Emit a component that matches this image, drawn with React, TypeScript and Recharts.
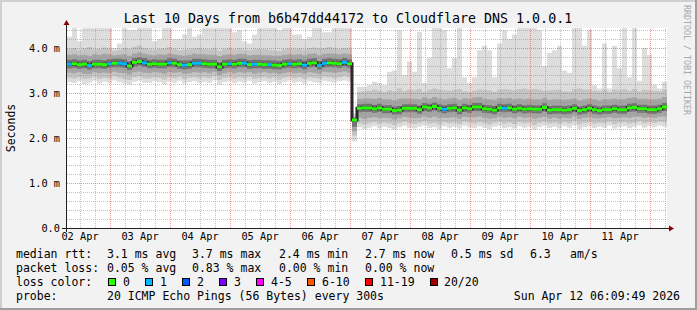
import React from 'react';
import {
  ComposedChart,
  Area,
  Line,
  Scatter,
  XAxis,
  YAxis,
  CartesianGrid,
  ReferenceLine,
} from 'recharts';

const MONO = "'DejaVu Sans Mono', 'Liberation Mono', monospace";

// time axis in hours since 02 Apr 00:00, one column every 2 hours
const startHour = 6.8;
const stepHours = 2;
const spanHours = 240;

const dayLabels = ['02 Apr', '03 Apr', '04 Apr', '05 Apr', '06 Apr', '07 Apr', '08 Apr', '09 Apr', '10 Apr', '11 Apr'];
const yTicks = [0, 1, 2, 3, 4];

// round trip times in ms, per column
const rttMedian = [
  3.64, 3.65, 3.63, 3.64, 3.61, 3.64, 3.64, 3.63, 3.65, 3.66,
  3.66, 3.65, 3.60, 3.68, 3.70, 3.67, 3.64, 3.65, 3.64, 3.64,
  3.67, 3.66, 3.63, 3.62, 3.63, 3.66, 3.66, 3.65, 3.64, 3.64,
  3.58, 3.64, 3.65, 3.64, 3.66, 3.66, 3.63, 3.64, 3.64, 3.63,
  3.63, 3.62, 3.61, 3.64, 3.65, 3.64, 3.65, 3.62, 3.66, 3.67,
  3.61, 3.66, 3.67, 3.66, 3.65, 3.68, 3.65, 2.40, 2.66, 2.67,
  2.67, 2.65, 2.67, 2.64, 2.64, 2.61, 2.62, 2.66, 2.66, 2.66,
  2.63, 2.69, 2.67, 2.70, 2.66, 2.64, 2.66, 2.67, 2.62, 2.67,
  2.65, 2.69, 2.69, 2.65, 2.64, 2.62, 2.67, 2.66, 2.67, 2.64,
  2.66, 2.64, 2.65, 2.64, 2.64, 2.68, 2.62, 2.63, 2.63, 2.62,
  2.63, 2.66, 2.61, 2.63, 2.66, 2.63, 2.61, 2.63, 2.63, 2.65,
  2.63, 2.63, 2.67, 2.68, 2.65, 2.65, 2.63, 2.63, 2.65, 2.69,
];

const rttMax = [
  4.25, 4.5, 4.15, 4.5, 4.5, 4.5, 4.5, 4.5, 4.5, 4.0,
  4.1, 4.5, 4.4, 4.4, 4.5, 4.5, 4.5, 4.15, 4.2, 4.5,
  4.5, 4.2, 4.2, 4.3, 4.5, 4.25, 4.3, 4.5, 4.5, 4.5,
  4.5, 4.5, 4.5, 4.35, 4.4, 4.15, 4.1, 4.3, 4.5, 4.5,
  4.5, 4.5, 4.4, 4.5, 4.5, 4.3, 4.3, 4.2, 4.25, 4.5,
  4.5, 4.35, 4.35, 4.5, 4.5, 4.5, 4.5, 2.55, 3.14, 3.14,
  3.18, 3.25, 3.22, 3.18, 3.47, 3.5, 4.4, 3.4, 3.7, 3.47,
  4.36, 3.22, 3.78, 4.5, 4.5, 4.4, 3.55, 3.78, 4.5, 3.35,
  3.22, 3.35, 3.95, 4.05, 3.95, 3.35, 4.1, 4.4, 4.2, 4.3,
  4.5, 4.5, 4.5, 4.5, 4.4, 3.6, 3.89, 3.95, 4.05, 3.5,
  3.45, 4.5, 4.5, 4.05, 4.4, 3.18, 3.1, 4.1, 3.1, 4.05,
  3.55, 4.5, 3.35, 4.5, 3.27, 4.0, 3.85, 3.18, 3.1, 3.25,
];

const rttP90 = [
  3.98, 4.00, 3.95, 3.99, 4.02, 3.97, 3.98, 4.01, 3.99, 3.94,
  3.96, 4.00, 3.98, 4.03, 4.05, 4.00, 3.97, 3.96, 3.98, 3.99,
  4.02, 3.98, 3.95, 3.96, 3.97, 3.99, 4.00, 3.98, 3.97, 3.99,
  3.94, 3.98, 4.00, 3.97, 3.99, 3.96, 3.95, 3.97, 3.98, 3.97,
  3.96, 3.95, 3.94, 3.97, 3.99, 3.98, 3.99, 3.96, 4.00, 4.01,
  3.99, 4.00, 4.02, 3.99, 3.98, 4.00, 3.99, 2.50, 3.02, 3.04,
  3.05, 3.07, 3.05, 3.02, 3.06, 3.04, 3.10, 3.05, 3.08, 3.06,
  3.09, 3.03, 3.07, 3.10, 3.08, 3.06, 3.05, 3.07, 3.09, 3.04,
  3.02, 3.05, 3.08, 3.07, 3.06, 3.03, 3.08, 3.09, 3.07, 3.06,
  3.09, 3.10, 3.08, 3.09, 3.08, 3.05, 3.06, 3.07, 3.08, 3.04,
  3.03, 3.09, 3.10, 3.07, 3.08, 3.05, 3.04, 3.08, 3.03, 3.08,
  3.06, 3.09, 3.05, 3.09, 3.04, 3.07, 3.06, 3.05, 3.04, 3.08,
];

const rttP75 = [
  3.85, 3.86, 3.84, 3.85, 3.83, 3.86, 3.85, 3.87, 3.86, 3.84,
  3.85, 3.86, 3.83, 3.88, 3.90, 3.87, 3.85, 3.84, 3.86, 3.85,
  3.88, 3.86, 3.84, 3.83, 3.85, 3.87, 3.86, 3.86, 3.85, 3.85,
  3.82, 3.85, 3.86, 3.85, 3.87, 3.86, 3.84, 3.85, 3.85, 3.84,
  3.84, 3.83, 3.83, 3.85, 3.86, 3.85, 3.86, 3.84, 3.87, 3.88,
  3.84, 3.87, 3.88, 3.87, 3.86, 3.88, 3.86, 2.46, 2.87, 2.88,
  2.88, 2.87, 2.89, 2.86, 2.86, 2.84, 2.87, 2.88, 2.88, 2.87,
  2.86, 2.90, 2.88, 2.91, 2.88, 2.86, 2.88, 2.89, 2.85, 2.88,
  2.87, 2.90, 2.91, 2.87, 2.86, 2.85, 2.89, 2.88, 2.89, 2.86,
  2.88, 2.86, 2.87, 2.86, 2.86, 2.89, 2.85, 2.86, 2.86, 2.85,
  2.86, 2.88, 2.84, 2.86, 2.88, 2.86, 2.84, 2.86, 2.86, 2.87,
  2.86, 2.86, 2.89, 2.90, 2.87, 2.87, 2.86, 2.86, 2.87, 2.91,
];

const rttP60 = [
  3.74, 3.75, 3.73, 3.74, 3.71, 3.74, 3.74, 3.73, 3.75, 3.76,
  3.76, 3.75, 3.70, 3.78, 3.80, 3.77, 3.74, 3.75, 3.74, 3.74,
  3.77, 3.76, 3.73, 3.72, 3.73, 3.76, 3.76, 3.75, 3.74, 3.74,
  3.68, 3.74, 3.75, 3.74, 3.76, 3.76, 3.73, 3.74, 3.74, 3.73,
  3.73, 3.72, 3.71, 3.74, 3.75, 3.74, 3.75, 3.72, 3.76, 3.77,
  3.71, 3.76, 3.77, 3.76, 3.75, 3.78, 3.75, 2.43, 2.75, 2.76,
  2.76, 2.74, 2.76, 2.73, 2.73, 2.70, 2.71, 2.75, 2.75, 2.75,
  2.72, 2.78, 2.76, 2.79, 2.75, 2.73, 2.75, 2.76, 2.71, 2.76,
  2.74, 2.78, 2.78, 2.74, 2.73, 2.71, 2.76, 2.75, 2.76, 2.73,
  2.75, 2.73, 2.74, 2.73, 2.73, 2.77, 2.71, 2.72, 2.72, 2.71,
  2.72, 2.75, 2.70, 2.72, 2.75, 2.72, 2.70, 2.72, 2.72, 2.74,
  2.72, 2.72, 2.76, 2.77, 2.74, 2.74, 2.72, 2.72, 2.74, 2.78,
];

const rttP40 = [
  3.55, 3.56, 3.54, 3.55, 3.52, 3.55, 3.55, 3.54, 3.56, 3.57,
  3.57, 3.56, 3.51, 3.59, 3.61, 3.58, 3.55, 3.56, 3.55, 3.55,
  3.58, 3.57, 3.54, 3.53, 3.54, 3.57, 3.57, 3.56, 3.55, 3.55,
  3.49, 3.55, 3.56, 3.55, 3.57, 3.57, 3.54, 3.55, 3.55, 3.54,
  3.54, 3.53, 3.52, 3.55, 3.56, 3.55, 3.56, 3.53, 3.57, 3.58,
  3.52, 3.57, 3.58, 3.57, 3.56, 3.59, 3.56, 2.25, 2.57, 2.58,
  2.58, 2.56, 2.58, 2.55, 2.55, 2.52, 2.53, 2.57, 2.57, 2.57,
  2.54, 2.60, 2.58, 2.61, 2.57, 2.55, 2.57, 2.58, 2.53, 2.58,
  2.56, 2.60, 2.60, 2.56, 2.55, 2.53, 2.58, 2.57, 2.58, 2.55,
  2.57, 2.55, 2.56, 2.55, 2.55, 2.59, 2.53, 2.54, 2.54, 2.53,
  2.54, 2.57, 2.52, 2.54, 2.57, 2.54, 2.52, 2.54, 2.54, 2.56,
  2.54, 2.54, 2.58, 2.59, 2.56, 2.56, 2.54, 2.54, 2.56, 2.60,
];

const rttP25 = [
  3.45, 3.44, 3.46, 3.43, 3.42, 3.46, 3.44, 3.45, 3.44, 3.47,
  3.45, 3.44, 3.41, 3.46, 3.48, 3.45, 3.44, 3.46, 3.45, 3.43,
  3.46, 3.45, 3.46, 3.43, 3.44, 3.46, 3.45, 3.46, 3.44, 3.47,
  3.40, 3.44, 3.46, 3.44, 3.46, 3.45, 3.46, 3.43, 3.45, 3.46,
  3.44, 3.45, 3.42, 3.44, 3.46, 3.44, 3.45, 3.43, 3.46, 3.45,
  3.42, 3.47, 3.46, 3.45, 3.46, 3.48, 3.45, 2.15, 2.45, 2.43,
  2.45, 2.46, 2.44, 2.45, 2.44, 2.41, 2.44, 2.47, 2.45, 2.44,
  2.45, 2.48, 2.45, 2.47, 2.44, 2.45, 2.45, 2.46, 2.43, 2.47,
  2.46, 2.46, 2.48, 2.45, 2.43, 2.44, 2.47, 2.45, 2.46, 2.44,
  2.47, 2.45, 2.46, 2.43, 2.45, 2.47, 2.43, 2.45, 2.43, 2.45,
  2.44, 2.48, 2.42, 2.45, 2.46, 2.44, 2.44, 2.45, 2.46, 2.44,
  2.45, 2.46, 2.45, 2.47, 2.47, 2.45, 2.46, 2.45, 2.47, 2.48,
];

const rttP10 = [
  3.34, 3.32, 3.35, 3.31, 3.32, 3.36, 3.31, 3.34, 3.32, 3.37,
  3.34, 3.31, 3.29, 3.35, 3.37, 3.33, 3.32, 3.35, 3.34, 3.30,
  3.35, 3.33, 3.36, 3.31, 3.34, 3.35, 3.32, 3.35, 3.33, 3.37,
  3.29, 3.34, 3.35, 3.32, 3.35, 3.33, 3.36, 3.31, 3.34, 3.35,
  3.32, 3.35, 3.30, 3.34, 3.36, 3.33, 3.35, 3.31, 3.35, 3.34,
  3.32, 3.36, 3.35, 3.33, 3.35, 3.37, 3.35, 2.05, 2.33, 2.30,
  2.33, 2.35, 2.31, 2.34, 2.32, 2.29, 2.33, 2.36, 2.33, 2.31,
  2.34, 2.37, 2.32, 2.34, 2.30, 2.35, 2.33, 2.34, 2.31, 2.36,
  2.34, 2.32, 2.35, 2.33, 2.30, 2.34, 2.36, 2.32, 2.34, 2.31,
  2.35, 2.33, 2.34, 2.29, 2.34, 2.36, 2.32, 2.34, 2.31, 2.35,
  2.33, 2.37, 2.30, 2.34, 2.35, 2.32, 2.34, 2.33, 2.36, 2.31,
  2.34, 2.35, 2.32, 2.34, 2.37, 2.33, 2.35, 2.34, 2.36, 2.35,
];

const rttMin = [
  3.24, 3.22, 3.26, 3.20, 3.23, 3.27, 3.21, 3.25, 3.22, 3.28,
  3.24, 3.21, 3.19, 3.25, 3.27, 3.23, 3.22, 3.26, 3.24, 3.20,
  3.25, 3.23, 3.27, 3.21, 3.24, 3.26, 3.22, 3.25, 3.23, 3.28,
  3.19, 3.24, 3.26, 3.22, 3.25, 3.23, 3.27, 3.21, 3.24, 3.26,
  3.22, 3.25, 3.20, 3.24, 3.27, 3.23, 3.25, 3.21, 3.26, 3.24,
  3.22, 3.27, 3.25, 3.23, 3.26, 3.28, 3.25, 1.92, 2.24, 2.20,
  2.23, 2.26, 2.21, 2.25, 2.22, 2.19, 2.24, 2.27, 2.23, 2.21,
  2.25, 2.28, 2.22, 2.24, 2.20, 2.26, 2.23, 2.25, 2.21, 2.27,
  2.24, 2.22, 2.26, 2.23, 2.20, 2.25, 2.27, 2.22, 2.24, 2.21,
  2.26, 2.23, 2.25, 2.19, 2.24, 2.27, 2.22, 2.25, 2.21, 2.26,
  2.23, 2.28, 2.20, 2.24, 2.26, 2.22, 2.25, 2.23, 2.27, 2.21,
  2.24, 2.26, 2.22, 2.25, 2.28, 2.23, 2.26, 2.24, 2.27, 2.25,
];

// lost pings (of 20) per column
const lossPings = [
  1, 0, 0, 0, 1, 0, 0, 0, 1, 0,
  1, 1, 0, 0, 0, 1, 0, 0, 0, 0,
  1, 0, 0, 1, 0, 1, 1, 0, 0, 0,
  0, 0, 1, 0, 0, 1, 0, 1, 0, 0,
  1, 0, 0, 0, 1, 0, 0, 1, 0, 0,
  1, 1, 0, 0, 0, 1, 0, 0, 0, 0,
  0, 0, 0, 0, 0, 0, 0, 0, 0, 0,
  0, 0, 0, 0, 0, 1, 0, 0, 0, 0,
  0, 0, 0, 0, 0, 0, 0, 1, 0, 0,
  0, 0, 0, 0, 0, 0, 0, 0, 0, 0,
  0, 0, 0, 0, 0, 0, 0, 0, 0, 0,
  0, 0, 0, 0, 0, 0, 0, 0, 0, 0,
];

const lossLabels = ['0', '1', '2', '3', '4-5', '6-10', '11-19', '20/20'];
const lossColors = ['#26ff00', '#00b8ff', '#0059ff', '#7e00ff', '#ff00ff', '#ff5500', '#ff0000', '#a10000'];

const title = 'Last 10 Days from b6b47dd44172 to Cloudflare DNS 1.0.0.1';
const rttStats = ['3.1 ms avg', '3.7 ms max', '2.4 ms min', '2.7 ms now', '0.5 ms sd'];
const lossStats = ['0.05 % avg', '0.83 % max', '0.00 % min', '0.00 % now'];
const probeText = '20 ICMP Echo Pings (56 Bytes) every 300s';
const stampText = 'Sun Apr 12 06:09:49 2026';

const columnRow = (i: number, t: number) => ({
  t,
  med: rttMedian[i],
  outer: [rttMin[i], rttMax[i]],
  wide: [rttP10[i], rttP90[i]],
  mid: [rttP25[i], rttP75[i]],
  core: [rttP40[i], rttP60[i]],
});

const rows = rttMedian.map((_, i) => columnRow(i, startHour + i * stepHours));
rows.push(columnRow(rttMedian.length - 1, startHour + spanHours));

const medianMarks = rttMedian.map((m, i) => ({
  t: startHour + (i + 0.5) * stepHours,
  med: m,
  loss: lossPings[i],
}));

const noonTicks = dayLabels.map((_, k) => 12 + 24 * k);
const midnightLines = dayLabels.map((_, k) => 24 * (k + 1));
const sixHourLines: number[] = [];
for (let h = 6; h < startHour + spanHours; h += 6) {
  if (h > startHour && h % 24 !== 0) sixHourLines.push(h);
}
const yMinorLines: number[] = [];
for (let k = 1; k <= 22; k++) {
  if (k % 5 !== 0) yMinorLines.push(k / 5);
}

const GRID = 'rgba(143,143,143,0.55)';
const MGRID = 'rgba(222,80,80,0.6)';

const LossMark = (props: any) => {
  const { cx, cy, payload } = props;
  if (cx == null || cy == null) return null;
  return <rect x={cx - 2.5} y={cy - 1.5} width={5} height={3} fill={lossColors[payload.loss]} />;
};

const legendBoxX = [108, 145, 182, 219, 256, 307, 365, 430];
const legendTextX = [123, 160, 197, 234, 271, 322, 380, 444];
const statX = [107, 192, 279, 365, 451];

const Overlay = () => (
  <svg
    width={697}
    height={310}
    style={{ position: 'absolute', left: 0, top: 0, pointerEvents: 'none' }}
    fontFamily={MONO}
  >
    <rect x={0} y={0} width={697} height={2} fill="#cfcfcf" />
    <rect x={0} y={0} width={2} height={310} fill="#cfcfcf" />
    <rect x={0} y={308} width={697} height={2} fill="#9e9e9e" />
    <rect x={695} y={0} width={2} height={310} fill="#9e9e9e" />

    <rect x={66} y={24} width={1} height={208} fill="#212121" />
    <rect x={62} y={228} width={608} height={1} fill="#212121" />
    <polygon points="63.5,25 69.5,25 66.5,20" fill="#8b0000" />
    <polygon points="669,225.5 669,231.5 674,228.5" fill="#8b0000" />

    <text x={348} y={23} textAnchor="middle" fontSize={13.3} fill="#000">{title}</text>
    <text transform="translate(15,128) rotate(-90)" textAnchor="middle" fontSize={11.5} fill="#000">Seconds</text>
    <text transform="translate(684,5) rotate(90)" fontSize={8.3} fill="#a8a8a8">RRDTOOL / TOBI OETIKER</text>

    <g fontSize={11.5} fill="#000">
      <text x={16} y={258}>median rtt:</text>
      {rttStats.map((s, i) => (
        <text key={s} x={statX[i]} y={258}>{s}</text>
      ))}
      <text x={530} y={258}>6.3</text>
      <text x={570} y={258}>am/s</text>

      <text x={16} y={272}>packet loss:</text>
      {lossStats.map((s, i) => (
        <text key={s + i} x={statX[i]} y={272}>{s}</text>
      ))}

      <text x={16} y={286}>loss color:</text>
      {lossLabels.map((l, i) => (
        <g key={l}>
          <rect x={legendBoxX[i] + 0.5} y={278.5} width={7} height={7} fill={lossColors[i]} stroke="#000" strokeWidth={1} />
          <text x={legendTextX[i]} y={286}>{l}</text>
        </g>
      ))}

      <text x={16} y={300}>probe:</text>
      <text x={107} y={300}>{probeText}</text>
      <text x={680} y={300} textAnchor="end">{stampText}</text>
    </g>
  </svg>
);

const App: React.FC = () => {
  return (
    <div style={{ position: 'absolute', left: 0, top: 0, width: 697, height: 310, background: '#f2f2f2' }}>
      <ComposedChart width={697} height={310} data={rows} margin={{ top: 28, right: 30, bottom: 0, left: 0 }}>
        <CartesianGrid fill="#ffffff" horizontal={false} vertical={false} />
        <XAxis
          dataKey="t"
          type="number"
          domain={[startHour, startHour + spanHours]}
          allowDataOverflow
          ticks={noonTicks}
          tickFormatter={(v: number) => dayLabels[Math.round((v - 12) / 24)]}
          height={82}
          axisLine={false}
          tickLine={false}
          tickSize={0}
          tickMargin={5}
          tick={{ fontSize: 10.3, fill: '#000', fontFamily: MONO }}
        />
        <YAxis
          type="number"
          domain={[0, 200 / 45]}
          allowDataOverflow
          ticks={yTicks}
          tickFormatter={(v: number) => (v === 0 ? '0.0' : `${v.toFixed(1)} m`)}
          width={67}
          axisLine={false}
          tickLine={false}
          tickSize={0}
          tickMargin={7}
          tick={{ fontSize: 10.3, fill: '#000', fontFamily: MONO }}
        />
        <Area dataKey="outer" type="stepAfter" stroke="none" fill="#dddddd" fillOpacity={1} isAnimationActive={false} />
        <Area dataKey="wide" type="stepAfter" stroke="none" fill="#c4c4c4" fillOpacity={1} isAnimationActive={false} />
        <Area dataKey="mid" type="stepAfter" stroke="none" fill="#a4a4a4" fillOpacity={1} isAnimationActive={false} />
        <Area dataKey="core" type="stepAfter" stroke="none" fill="#727272" fillOpacity={1} isAnimationActive={false} />
        {sixHourLines.map((h) => (
          <ReferenceLine key={`sx${h}`} x={h} stroke={GRID} strokeDasharray="1 1" shapeRendering="crispEdges" zIndex={350} />
        ))}
        {yMinorLines.map((v) => (
          <ReferenceLine key={`sy${v}`} y={v} stroke={GRID} strokeDasharray="1 1" shapeRendering="crispEdges" zIndex={350} />
        ))}
        {midnightLines.map((h) => (
          <ReferenceLine key={`mx${h}`} x={h} stroke={MGRID} strokeDasharray="1 1" shapeRendering="crispEdges" zIndex={350} />
        ))}
        {yTicks.slice(1).map((v) => (
          <ReferenceLine key={`my${v}`} y={v} stroke={MGRID} strokeDasharray="1 1" shapeRendering="crispEdges" zIndex={350} />
        ))}
        <Line
          dataKey="med"
          type="stepAfter"
          stroke="#2a2a2a"
          strokeWidth={3}
          dot={false}
          activeDot={false}
          isAnimationActive={false}
        />
        <Scatter data={medianMarks} dataKey="med" shape={LossMark} isAnimationActive={false} />
      </ComposedChart>
      <Overlay />
    </div>
  );
};

export default App;
